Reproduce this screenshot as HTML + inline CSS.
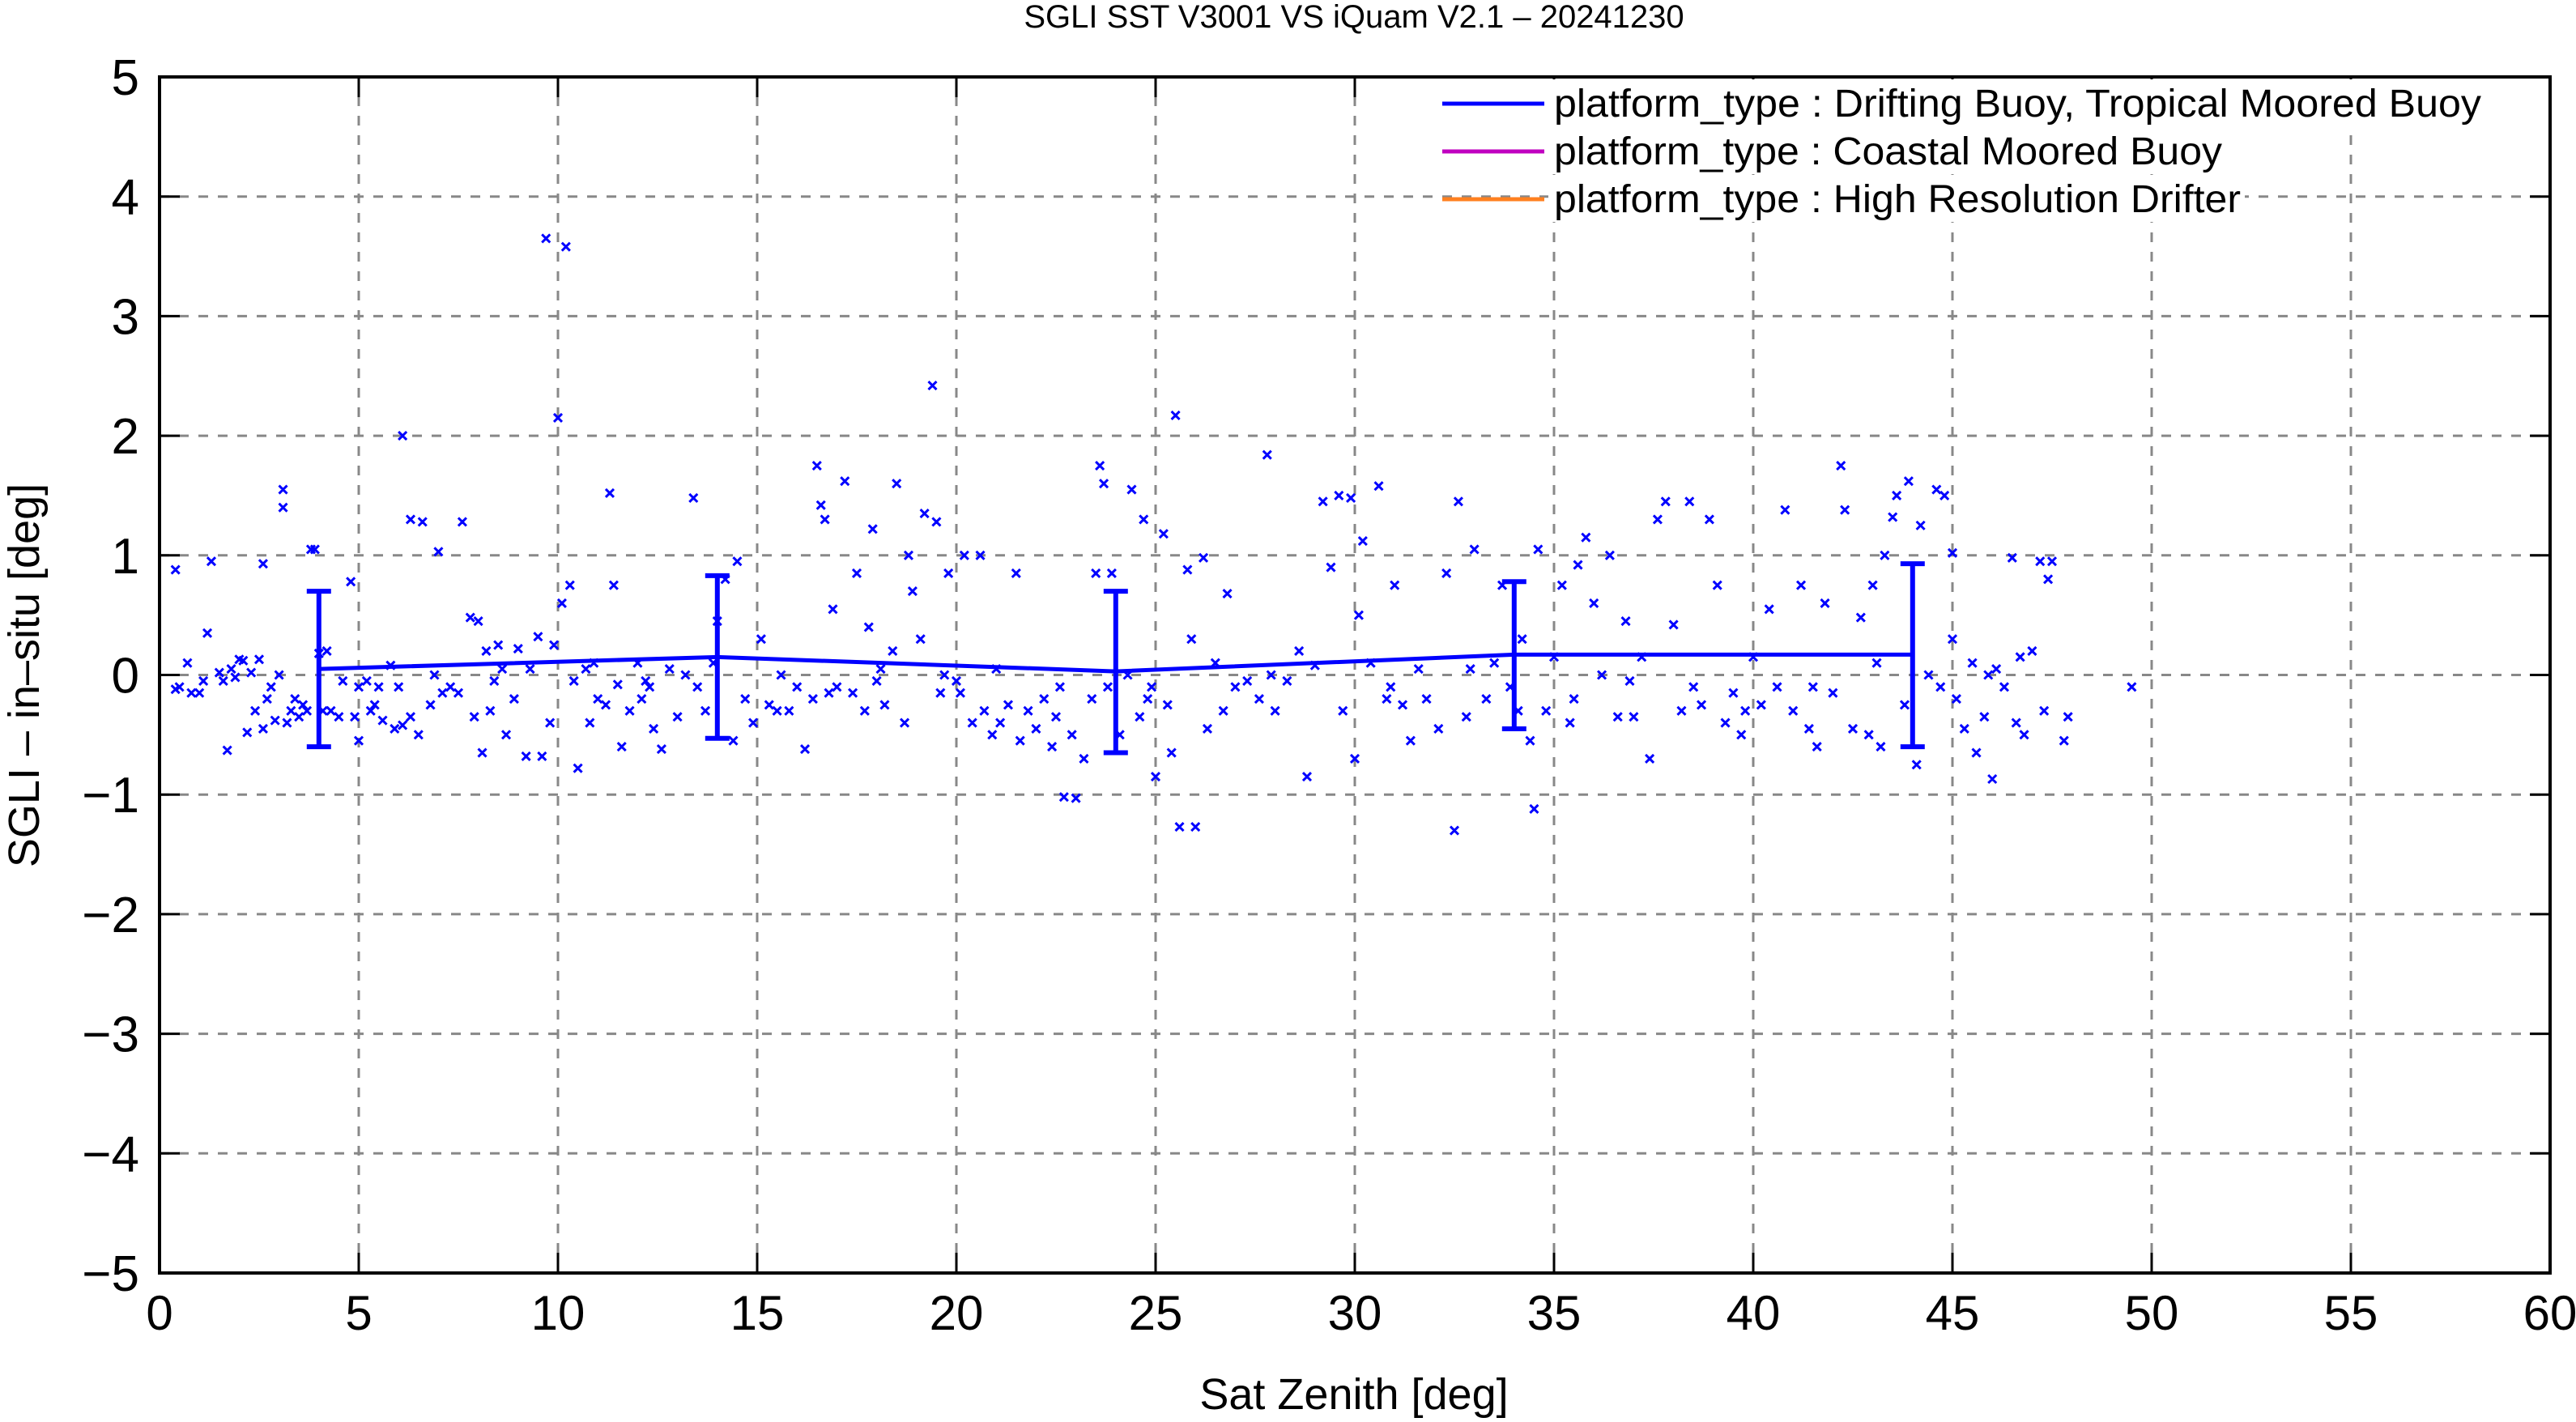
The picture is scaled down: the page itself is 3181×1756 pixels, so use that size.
<!DOCTYPE html>
<html><head><meta charset="utf-8"><style>
html,body{margin:0;padding:0;background:#fff;}
svg{display:block;font-family:"Liberation Sans",sans-serif;}
</style></head><body>
<svg id="chart" width="3181" height="1756" viewBox="0 0 3181 1756" xmlns="http://www.w3.org/2000/svg">
<rect width="3181" height="1756" fill="#fff"/>
<text x="1672" y="34" font-size="40" text-anchor="middle">SGLI SST V3001 VS iQuam V2.1  – 20241230</text>
<g id="grid"></g>
<g id="ticks"></g>
<g id="marks"></g>
<g id="legend"></g>
<rect x="197" y="95" width="2952" height="1477" fill="none" stroke="#000" stroke-width="4"/>
<text x="1672" y="1740" font-size="54" text-anchor="middle">Sat Zenith [deg]</text>
<text transform="translate(48,834) rotate(-90)" font-size="54" text-anchor="middle">SGLI – in–situ [deg]</text>
</svg>
<script>
const xTicks=[0,5,10,15,20,25,30,35,40,45,50,55,60];
const yTicks=[-5,-4,-3,-2,-1,0,1,2,3,4,5];
const yTickLabels=["−5","−4","−3","−2","−1","0","1","2","3","4","5"];
const meanX=[4,14,24,34,44];
const meanY=[0.05,0.15,0.03,0.17,0.17];
const errLow=[-0.6,-0.53,-0.65,-0.45,-0.6];
const errHigh=[0.7,0.83,0.7,0.78,0.93];
const pts=[[0.4,0.88],[0.4,-0.12],[0.5,-0.1],[0.7,0.1],[0.8,-0.15],[1,-0.15],[1.2,0.35],[1.3,0.95],[1.5,0.02],[1.6,-0.05],[1.7,-0.63],[1.8,0.05],[1.9,-0.02],[2,0.13],[2.1,0.12],[2.2,-0.48],[2.3,0.02],[2.4,-0.3],[2.5,0.13],[2.6,-0.45],[2.6,0.93],[2.8,-0.1],[2.9,-0.38],[3,0.0],[3.1,1.55],[3.1,1.4],[3.2,-0.4],[3.3,-0.3],[3.4,-0.2],[3.5,-0.35],[3.6,-0.25],[3.7,-0.3],[3.8,1.05],[3.9,1.05],[4,0.18],[4.1,-0.3],[4.2,0.2],[4.3,-0.3],[4.5,-0.35],[4.6,-0.05],[4.8,0.78],[4.9,-0.35],[5,-0.55],[5,-0.1],[5.2,-0.05],[5.4,-0.25],[5.5,-0.1],[5.6,-0.38],[5.8,0.08],[5.9,-0.45],[6,-0.1],[6.1,-0.42],[6.1,2.0],[6.3,-0.35],[6.3,1.3],[6.5,-0.5],[6.6,1.28],[6.8,-0.25],[7,1.03],[7.1,-0.15],[7.3,-0.1],[7.5,-0.15],[7.6,1.28],[7.8,0.48],[7.9,-0.35],[8,0.45],[8.1,-0.65],[8.2,0.2],[8.3,-0.3],[8.5,0.25],[8.6,0.05],[8.7,-0.5],[8.9,-0.2],[9,0.22],[9.2,-0.68],[9.3,0.05],[9.5,0.32],[9.6,-0.68],[9.7,3.65],[9.8,-0.4],[9.9,0.25],[10,2.15],[10.1,0.6],[10.2,3.58],[10.3,0.75],[10.4,-0.05],[10.5,-0.78],[10.7,0.05],[10.8,-0.4],[11,-0.2],[11.2,-0.25],[11.3,1.52],[11.4,0.75],[11.5,-0.08],[11.6,-0.6],[11.8,-0.3],[12,0.1],[12.1,-0.2],[12.3,-0.1],[12.4,-0.45],[12.6,-0.62],[12.8,0.05],[13,-0.35],[13.2,0.0],[13.4,1.48],[13.5,-0.1],[13.7,-0.3],[13.9,0.1],[14,0.45],[14.2,0.8],[14.4,-0.55],[14.5,0.95],[14.7,-0.2],[14.9,-0.4],[15.1,0.3],[15.3,-0.25],[15.5,-0.3],[15.8,-0.3],[16,-0.1],[16.2,-0.62],[16.4,-0.2],[16.5,1.75],[16.6,1.42],[16.7,1.3],[16.9,0.55],[17,-0.1],[17.2,1.62],[17.4,-0.15],[17.5,0.85],[17.7,-0.3],[17.8,0.4],[17.9,1.22],[18,-0.05],[18.2,-0.25],[18.4,0.2],[18.5,1.6],[18.7,-0.4],[18.8,1.0],[18.9,0.7],[19.1,0.3],[19.2,1.35],[19.4,2.42],[19.5,1.28],[19.6,-0.15],[19.8,0.85],[20,-0.05],[20.1,-0.15],[20.2,1.0],[20.4,-0.4],[20.6,1.0],[20.7,-0.3],[20.9,-0.5],[21.1,-0.4],[21.3,-0.25],[21.5,0.85],[21.6,-0.55],[21.8,-0.3],[22,-0.45],[22.2,-0.2],[22.4,-0.6],[22.5,-0.35],[22.7,-1.02],[22.9,-0.5],[23,-1.03],[23.2,-0.7],[23.4,-0.2],[23.5,0.85],[23.6,1.75],[23.7,1.6],[23.8,-0.1],[23.9,0.85],[24.1,-0.5],[24.3,0.0],[24.4,1.55],[24.6,-0.35],[24.7,1.3],[24.9,-0.1],[25,-0.85],[25.2,1.18],[25.3,-0.25],[25.4,-0.65],[25.5,2.17],[25.6,-1.27],[25.8,0.88],[25.9,0.3],[26,-1.27],[26.2,0.98],[26.3,-0.45],[26.5,0.1],[26.8,0.68],[27,-0.1],[27.3,-0.05],[27.6,-0.2],[27.8,1.84],[28,-0.3],[28.3,-0.05],[28.6,0.2],[28.8,-0.85],[29,0.08],[29.2,1.45],[29.4,0.9],[29.6,1.5],[29.7,-0.3],[29.9,1.48],[30,-0.7],[30.1,0.5],[30.2,1.12],[30.4,0.1],[30.6,1.58],[30.8,-0.2],[31,0.75],[31.2,-0.25],[31.4,-0.55],[31.6,0.05],[31.8,-0.2],[32.1,-0.45],[32.3,0.85],[32.5,-1.3],[32.6,1.45],[32.8,-0.35],[33,1.05],[33.3,-0.2],[33.5,0.1],[33.7,0.75],[33.9,-0.1],[34.1,-0.3],[34.2,0.3],[34.4,-0.55],[34.5,-1.12],[34.6,1.05],[34.8,-0.3],[35,0.15],[35.2,0.75],[35.4,-0.4],[35.6,0.92],[35.8,1.15],[36,0.6],[36.2,0.0],[36.4,1.0],[36.6,-0.35],[36.8,0.45],[37,-0.35],[37.2,0.15],[37.4,-0.7],[37.6,1.3],[37.8,1.45],[38,0.42],[38.2,-0.3],[38.4,1.45],[38.5,-0.1],[38.7,-0.25],[38.9,1.3],[39.1,0.75],[39.3,-0.4],[39.5,-0.15],[39.7,-0.5],[40,0.15],[40.2,-0.25],[40.4,0.55],[40.6,-0.1],[40.8,1.38],[41,-0.3],[41.2,0.75],[41.4,-0.45],[41.6,-0.6],[41.8,0.6],[42,-0.15],[42.2,1.75],[42.3,1.38],[42.5,-0.45],[42.7,0.48],[42.9,-0.5],[43.0,0.75],[43.2,-0.6],[43.3,1.0],[43.5,1.32],[43.6,1.5],[43.8,-0.25],[43.9,1.62],[44.1,-0.75],[44.2,1.25],[44.4,0.0],[44.6,1.55],[44.8,1.5],[45,1.02],[45,0.3],[45.1,-0.2],[45.3,-0.45],[45.5,0.1],[45.6,-0.65],[45.8,-0.35],[46,-0.87],[46.1,0.05],[46.3,-0.1],[46.5,0.98],[46.7,0.15],[46.8,-0.5],[47,0.2],[47.2,0.95],[47.3,-0.3],[47.4,0.8],[47.5,0.95],[47.8,-0.55],[47.9,-0.35],[49.5,-0.1],[47.5,4.8],
[1.1,-0.05],[2.7,-0.2],[5.3,-0.3],[6.9,0.0],[8.4,-0.05],[10.9,0.1],[12.2,-0.05],[15.6,0.0],[16.8,-0.15],[18.1,0.05],[19.7,0.0],[21.0,0.05],[22.6,-0.1],[24.8,-0.2],[26.7,-0.3],[27.9,0.0],[30.9,-0.1],[32.9,0.05],[35.5,-0.2],[36.9,-0.05],[39.8,-0.3],[41.5,-0.1],[43.1,0.1],[44.7,-0.1],[45.9,0.0],[46.6,-0.4]];

const X0=197,X1=3149,Y0=95,Y1=1572;
const sx=v=>X0+(v-0)/60*(X1-X0);
const sy=v=>Y1-(v+5)/10*(Y1-Y0);
const NS="http://www.w3.org/2000/svg";
function mk(tag,attrs,parent){const e=document.createElementNS(NS,tag);for(const k in attrs)e.setAttribute(k,attrs[k]);parent.appendChild(e);return e;}
const grid=document.getElementById('grid'),ticks=document.getElementById('ticks'),marks=document.getElementById('marks'),legend=document.getElementById('legend');
xTicks.forEach(t=>{
  const x=sx(t);
  if(t>0&&t<60){const g=mk('line',{x1:x,x2:x,y1:Y0,y2:Y1,stroke:'#888',"stroke-width":3,"stroke-dasharray":"12,12"},grid);
  
  
  mk('line',{x1:x,x2:x,y1:Y1,y2:Y1-25,stroke:'#000',"stroke-width":3},ticks);
  mk('line',{x1:x,x2:x,y1:Y0,y2:Y0+25,stroke:'#000',"stroke-width":3},ticks);}
  const l=mk('text',{x:x,y:1642,"font-size":60,"text-anchor":"middle"},ticks);
  l.textContent=t;
  
  
});
yTicks.forEach((t,i)=>{
  const y=sy(t);
  if(t>-5&&t<5){const g=mk('line',{x1:X0,x2:X1,y1:y,y2:y,stroke:'#888',"stroke-width":3,"stroke-dasharray":"12,12"},grid);
  
  
  mk('line',{x1:X0,x2:X0+25,y1:y,y2:y,stroke:'#000',"stroke-width":3},ticks);
  mk('line',{x1:X1,x2:X1-25,y1:y,y2:y,stroke:'#000',"stroke-width":3},ticks);}
  const l=mk('text',{x:172,y:y+22,"font-size":62,"text-anchor":"end"},ticks);
  l.textContent=yTickLabels[i];
  
  
});
let d='';
pts.forEach(p=>{const x=sx(p[0]),y=sy(p[1]);d+=`M${x-5},${y-5}L${x+5},${y+5}M${x-5},${y+5}L${x+5},${y-5}`;});
const sc=mk('path',{d:d,stroke:'#0000ff',"stroke-width":3,fill:'none'},marks);


const ml=mk('polyline',{points:meanX.map((x,i)=>sx(x)+','+sy(meanY[i])).join(' '),stroke:'#0000ff',"stroke-width":5,fill:'none'},marks);


meanX.forEach((x,i)=>{
  const cx=sx(x),a=sy(errLow[i]),b=sy(errHigh[i]);
  const eb=mk('path',{d:`M${cx},${a}L${cx},${b}M${cx-15},${a}L${cx+15},${a}M${cx-15},${b}L${cx+15},${b}`,stroke:'#0000ff',"stroke-width":6,fill:'none'},marks);
  
  
});
const legItems=[["platform_type : Drifting Buoy, Tropical Moored Buoy","#0000ff",128,1145],["platform_type : Coastal Moored Buoy","#c000c0",187,825],["platform_type : High Resolution Drifter","#ff8020",246,848]];
legItems.forEach(it=>{
  const bg=mk('rect',{x:1912,y:it[2]-30,width:it[3]+12,height:58,fill:'#fff'},legend);
  
  
  const ln=mk('line',{x1:1781,x2:1907,y1:it[2],y2:it[2],stroke:it[1],"stroke-width":5},legend);
  
  
  const t=mk('text',{x:1919,y:it[2]+16,"font-size":48,textLength:it[3],lengthAdjust:"spacingAndGlyphs"},legend);
  t.textContent=it[0];
  
  
});
</script>
</body></html>
